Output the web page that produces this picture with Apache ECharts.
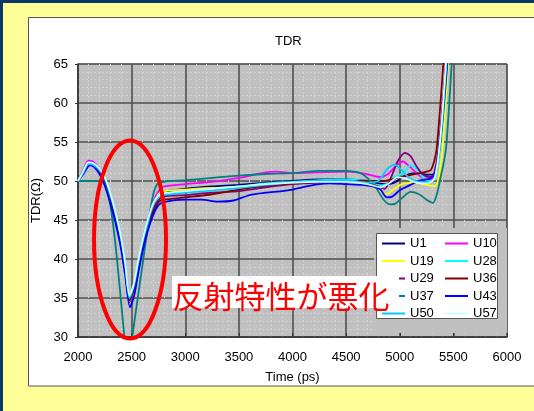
<!DOCTYPE html>
<html>
<head>
<meta charset="utf-8">
<script src="https://cdn.jsdelivr.net/npm/echarts@6/dist/echarts.min.js"></script>
<style>
    html, body { margin: 0; padding: 0; }
    #tdr { width: 534px; height: 411px; }
</style>
</head>
<body>
<div id="tdr"></div>
<script>
// TDR waveforms, [time ps, impedance ohm]
const seriesNames = ['U1', 'U10', 'U19', 'U28', 'U29', 'U36', 'U37', 'U43', 'U50', 'U57']
const seriesColors = ['#000080', '#ff00ff', '#ffff00', '#00ffff', '#800080', '#800000', '#008080', '#0000ff', '#00ccff', '#ccffff']

const u1 = [[2000,50],[2050,51.2],[2095,52.3],[2140,52.1],[2200,51.2],[2250,49.9],[2300,47.8],[2350,45.2],[2400,42.0],[2440,38.6],[2480,34.5],[2520,36.2],[2560,39.2],[2600,41.7],[2650,44.5],[2700,46.6],[2750,48.0],[2800,48.6],[3000,49.0],[3250,49.3],[3500,49.5],[3750,49.8],[4000,50.0],[4250,50.2],[4500,50.2],[4700,50.0],[4850,49.6],[4950,49.8],[5050,50.7],[5150,51.0],[5250,50.8],[5320,50.9],[5360,53.5],[5400,58.5],[5440,65],[5470,70]]
const u10 = [[2000,50],[2050,51.4],[2095,52.6],[2140,52.5],[2200,51.6],[2250,50.3],[2300,48.1],[2350,45.5],[2400,42.3],[2440,38.8],[2480,34.8],[2520,36.4],[2560,39.5],[2600,42.2],[2650,45.0],[2700,47.3],[2750,48.7],[2800,49.3],[3000,49.6],[3250,49.9],[3500,50.4],[3750,51.1],[3850,51.2],[4000,51.0],[4250,51.1],[4500,51.2],[4600,51.1],[4720,50.8],[4820,50.5],[4900,51.0],[4970,52.0],[5030,52.5],[5080,52.0],[5160,51.0],[5250,50.1],[5300,50.3],[5330,51.0],[5365,54.0],[5400,59.5],[5430,65],[5460,70]]
const u19 = [[2000,50],[2050,51.2],[2095,52.3],[2140,52.2],[2200,51.3],[2250,50.0],[2300,47.9],[2350,45.3],[2400,42.1],[2440,38.7],[2480,34.6],[2520,36.3],[2560,39.4],[2600,42.0],[2650,44.8],[2700,47.0],[2750,48.3],[2800,48.7],[3000,48.9],[3250,49.1],[3500,49.2],[3750,49.5],[4000,49.8],[4250,50.0],[4500,49.9],[4700,49.6],[4800,49.0],[4870,48.3],[4950,49.0],[5020,49.6],[5150,49.8],[5250,49.5],[5330,49.3],[5370,51.0],[5410,56.0],[5450,65],[5475,70]]
const u28 = [[2000,50],[2050,51.3],[2095,52.4],[2140,52.3],[2200,51.5],[2250,50.3],[2300,48.2],[2350,45.7],[2400,42.6],[2440,39.2],[2480,35.2],[2520,36.6],[2560,39.6],[2600,42.2],[2650,44.9],[2700,47.0],[2750,48.2],[2800,48.4],[3000,48.6],[3250,48.9],[3500,49.3],[3750,49.7],[4000,49.9],[4250,50.1],[4500,50.2],[4700,49.9],[4800,49.4],[4880,49.6],[4950,50.5],[5030,51.0],[5100,52.0],[5160,51.5],[5230,50.2],[5290,50.0],[5330,50.5],[5370,53.5],[5410,59.0],[5440,65],[5470,70]]
const u29 = [[2000,50],[2050,51.3],[2095,52.4],[2140,52.3],[2200,51.4],[2250,50.1],[2300,48.0],[2350,45.4],[2400,42.2],[2440,38.8],[2480,34.7],[2520,36.2],[2560,39.1],[2600,41.6],[2650,44.3],[2700,46.4],[2750,47.6],[2800,48.0],[3000,48.2],[3250,48.5],[3500,48.7],[3750,49.2],[4000,49.6],[4250,49.8],[4500,49.9],[4700,49.7],[4800,49.3],[4860,49.0],[4920,50.5],[4980,52.5],[5050,53.6],[5100,53.2],[5160,51.8],[5220,50.8],[5280,50.5],[5320,51.0],[5360,54.0],[5400,59.5],[5430,65],[5460,70]]
const u36 = [[2000,50],[2050,51.2],[2095,52.3],[2140,52.2],[2200,51.3],[2250,50.0],[2300,47.9],[2350,45.3],[2400,42.1],[2440,38.7],[2480,34.7],[2520,36.1],[2560,38.9],[2600,41.4],[2650,44.0],[2700,46.0],[2750,47.3],[2800,47.6],[3000,47.9],[3250,48.3],[3500,48.9],[3750,49.4],[4000,49.7],[4250,49.9],[4500,50.0],[4700,50.0],[4850,50.0],[5000,50.5],[5150,50.9],[5250,51.2],[5290,51.4],[5320,52.5],[5344,54.1],[5375,59.1],[5406,65],[5430,70]]
const u37 = [[2000,50],[2100,50],[2220,50],[2260,49.2],[2300,47.0],[2345,42.4],[2400,34.8],[2432,30],[2465,26],[2506,30],[2550,34.3],[2600,39.1],[2650,44.0],[2700,48.2],[2740,49.6],[2800,49.9],[3000,50.1],[3250,50.4],[3500,50.7],[3750,50.9],[4000,51.0],[4250,51.3],[4500,51.3],[4650,50.9],[4770,49.3],[4850,47.6],[4910,47.0],[4960,47.1],[5020,47.8],[5100,48.6],[5180,48.3],[5250,47.6],[5310,47.2],[5350,48.5],[5375,50.1],[5405,52.0],[5431,54.1],[5455,58.5],[5484,65],[5510,70]]
const u43 = [[2000,50],[2050,50.9],[2110,52.0],[2150,51.8],[2200,50.9],[2250,49.4],[2300,47.2],[2350,44.6],[2400,41.4],[2440,37.9],[2485,33.8],[2525,35.4],[2565,38.4],[2600,40.8],[2650,43.6],[2700,45.6],[2750,46.9],[2800,47.3],[3000,47.6],[3150,47.6],[3300,47.35],[3450,47.5],[3600,48.2],[3750,48.5],[3900,48.7],[4000,48.9],[4130,49.3],[4250,49.6],[4350,49.7],[4500,49.6],[4650,49.5],[4750,49.3],[4820,48.9],[4880,47.9],[4930,48.0],[5000,48.8],[5100,49.5],[5200,50.1],[5280,50.3],[5330,51.0],[5370,54.0],[5410,59.5],[5443,65],[5470,70]]
const u50 = [[2000,50],[2050,51.1],[2095,52.2],[2140,52.1],[2200,51.4],[2250,50.3],[2300,48.3],[2350,45.8],[2400,42.7],[2440,39.3],[2480,35.0],[2520,36.5],[2560,39.4],[2600,42.0],[2650,44.7],[2700,46.8],[2750,47.9],[2800,48.2],[3000,48.5],[3250,48.8],[3500,49.1],[3750,49.5],[4000,49.8],[4250,50.0],[4500,50.1],[4700,49.8],[4800,50.0],[4880,51.5],[4950,52.1],[5010,51.5],[5080,50.5],[5150,50.0],[5250,49.8],[5320,50.2],[5360,53.0],[5400,58.5],[5435,65],[5460,70]]
const u57 = [[2000,50],[2050,51.3],[2095,52.4],[2140,52.3],[2200,51.6],[2250,50.5],[2300,48.5],[2350,46.0],[2400,42.9],[2440,39.5],[2480,35.3],[2520,36.8],[2560,39.7],[2600,42.3],[2650,45.0],[2700,47.1],[2750,48.1],[2800,48.4],[3000,48.7],[3250,49.0],[3500,49.3],[3750,49.6],[4000,49.8],[4250,49.9],[4500,49.9],[4700,49.6],[4820,49.2],[4900,49.7],[4980,50.5],[5060,50.3],[5150,49.8],[5250,49.7],[5320,50.2],[5360,53.0],[5400,59.0],[5430,65],[5460,70]]
const seriesData = [u1, u10, u19, u28, u29, u36, u37, u43, u50, u57]

const legendLeft = ['U1', 'U19', 'U29', 'U37', 'U50']
const legendRight = ['U10', 'U28', 'U36', 'U43', 'U57']

const titleName = 'TDR'
const noteText = '反射特性が悪化'

const chartInstance = echarts.init(document.getElementById('tdr'))

const legendOpt = (names, left) => {
    return {
        orient: 'vertical',
        left: left,
        top: 237,
        padding: 0,
        itemGap: 4.5,
        itemWidth: 23,
        itemHeight: 2,
        icon: 'rect',
        selectedMode: false,
        data: names,
        textStyle: {
            fontSize: 13,
            lineHeight: 12,
            color: '#000',
            fontFamily: 'Liberation Sans'
        }
    }
}

const option = {
    backgroundColor: '#0a3866',
    animation: false,
    color: seriesColors,
    title: {
        text: titleName,
        left: 270,
        top: 30,
        textStyle: {
            fontSize: 13,
            fontWeight: 'normal',
            color: '#000',
            fontFamily: 'Liberation Sans'
        }
    },
    grid: {
        left: 78,
        right: 27,
        top: 64,
        bottom: 74,
        show: true,
        backgroundColor: '#c0c0c0',
        borderColor: '#808080',
        borderWidth: 1
    },
    legend: [legendOpt(legendLeft, 382), legendOpt(legendRight, 445)],
    xAxis: {
        type: 'value',
        min: 2000,
        max: 6000,
        interval: 500,
        name: 'Time (ps)',
        nameLocation: 'middle',
        nameGap: 34,
        nameTextStyle: { fontSize: 13, color: '#000', fontFamily: 'Liberation Sans' },
        axisLine: { show: true, onZero: false, lineStyle: { color: '#333', width: 1.5 } },
        axisTick: { show: true, inside: true, length: 4, lineStyle: { color: '#333' } },
        axisLabel: { margin: 14, fontSize: 13, color: '#000', fontFamily: 'Liberation Sans', formatter: (v) => String(v) },
        splitLine: { show: true, lineStyle: { color: '#505050', width: 1.6 } },
        minorTick: { show: false, splitNumber: 5 },
        minorSplitLine: { show: true, lineStyle: { color: '#d2d2d2', width: 1, type: [2, 2] } }
    },
    yAxis: {
        type: 'value',
        min: 30,
        max: 65,
        interval: 5,
        name: 'TDR(Ω)',
        nameLocation: 'middle',
        nameGap: 35,
        nameTextStyle: { fontSize: 13, color: '#000', fontFamily: 'Liberation Sans' },
        axisLine: { show: true, onZero: false, lineStyle: { color: '#333', width: 1.5 } },
        axisTick: { show: true, length: 3, lineStyle: { color: '#333' } },
        axisLabel: { margin: 10, fontSize: 13, color: '#000', fontFamily: 'Liberation Sans' },
        splitLine: { show: true, lineStyle: { color: '#505050', width: 1.6 } },
        minorTick: { show: false, splitNumber: 5 },
        minorSplitLine: { show: true, lineStyle: { color: '#d2d2d2', width: 1, type: [2, 2] } }
    },
    series: seriesNames.map((name, i) => {
        return {
            name: name,
            type: 'line',
            data: seriesData[i],
            showSymbol: false,
            smooth: 0.25,
            clip: true,
            lineStyle: { width: 1.8, color: seriesColors[i] },
            itemStyle: { color: seriesColors[i] }
        }
    }),
    graphic: [
        // slide background
        { type: 'rect', z: -20, shape: { x: 3, y: 3, width: 540, height: 420 }, style: { fill: '#ffff99' } },
        { type: 'rect', z: -19, shape: { x: 28.5, y: 17.5, width: 520, height: 368.5 }, style: { fill: '#fff', stroke: '#555', lineWidth: 1 } },
        // plain patch behind legend
        { type: 'rect', z: 1, shape: { x: 374, y: 228, width: 133, height: 105 }, style: { fill: '#c0c0c0' } },
        { type: 'rect', z: 3, shape: { x: 376.5, y: 233.5, width: 121, height: 85 }, style: { fill: '#fff', stroke: '#555', lineWidth: 1 } },
        // annotation
        { type: 'rect', z: 10, shape: { x: 172, y: 276, width: 227, height: 32 }, style: { fill: '#fff' } },
        { type: 'text', z: 11, style: { x: 172.5, y: 296, text: noteText, fill: '#ff0000', fontSize: 31, fontFamily: 'Noto Sans CJK JP', textVerticalAlign: 'middle' } },
        { type: 'ellipse', z: 11, shape: { cx: 130, cy: 239.5, rx: 36, ry: 99 }, style: { fill: 'none', stroke: '#ff0000', lineWidth: 4 } }
    ]
}

chartInstance.setOption(option)
</script>
</body>
</html>
